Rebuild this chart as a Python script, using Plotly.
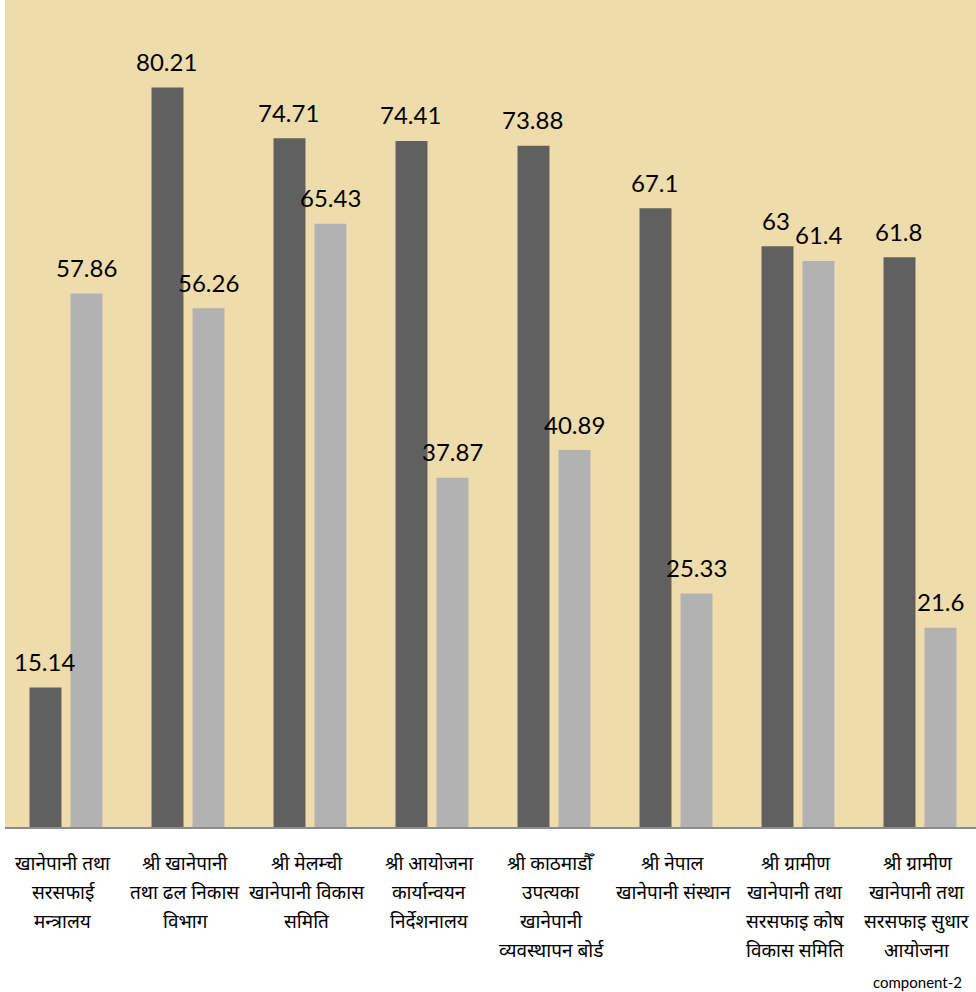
import plotly.graph_objects as go

categories = [
    "खानेपानी तथा<br>सरसफाई<br>मन्त्रालय",
    "श्री खानेपानी<br>तथा ढल निकास<br>विभाग",
    "श्री मेलम्ची<br>खानेपानी विकास<br>समिति",
    "श्री आयोजना<br>कार्यान्वयन<br>निर्देशनालय",
    "श्री काठमाडौँ<br>उपत्यका<br>खानेपानी<br>व्यवस्थापन बोर्ड",
    "श्री नेपाल<br>खानेपानी संस्थान",
    "श्री ग्रामीण<br>खानेपानी तथा<br>सरसफाइ कोष<br>विकास समिति",
    "श्री ग्रामीण<br>खानेपानी तथा<br>सरसफाइ सुधार<br>आयोजना<br>component-2",
]
series_a = [15.14, 80.21, 74.71, 74.41, 73.88, 67.1, 63, 61.8]
series_b = [57.86, 56.26, 65.43, 37.87, 40.89, 25.33, 61.4, 21.6]

idx = list(range(len(categories)))

fig = go.Figure()
fig.add_trace(go.Bar(x=idx, y=series_a, marker=dict(color="#606060", line=dict(width=0)), name="A"))
fig.add_trace(go.Bar(x=idx, y=series_b, marker=dict(color="#b2b2b2", line=dict(width=0)), name="B"))

annotations = []
value_font = dict(family="Lato, Carlito, sans-serif", size=24, color="#000000")
for i in idx:
    annotations.append(dict(x=i, y=series_a[i], xref="x", yref="y", text=str(series_a[i]),
                            showarrow=False, xshift=-22, yshift=26, yanchor="middle",
                            font=value_font))
    annotations.append(dict(x=i, y=series_b[i], xref="x", yref="y", text=str(series_b[i]),
                            showarrow=False, xshift=20.5, yshift=26, yanchor="middle",
                            font=value_font))
    lines = categories[i].split("<br>")
    for j, ln in enumerate(lines):
        latin = ln.isascii()
        annotations.append(dict(x=i, y=0, xref="x", yref="paper", text=ln, showarrow=False,
                                yanchor="middle", yshift=-38 - 29 * j - (1 if latin else 0),
                                xshift=-3,
                                font=dict(family=("Lato, Carlito, sans-serif" if latin else "Noto Sans Devanagari, Mangal, Noto Sans, sans-serif"),
                                          size=15 if latin else 19, color="#000000")))

fig.update_layout(
    width=976, height=992,
    margin=dict(l=5, r=0, t=0, b=165),
    paper_bgcolor="#ffffff",
    plot_bgcolor="#efdcad",
    barmode="group",
    bargap=0.328,
    bargroupgap=0.22,
    showlegend=False,
    annotations=annotations,
    xaxis=dict(range=[-0.5, 7.459], showticklabels=False, showgrid=False, zeroline=False,
               showline=True, linecolor="#8c8c8c", linewidth=2, ticks=""),
    yaxis=dict(range=[0, 89.7], showticklabels=False, showgrid=False, zeroline=False,
               showline=False, ticks=""),
)

fig.write_html("out.html", config={"displayModeBar": False},
               post_script="document.body.style.margin='0';document.body.style.overflow='hidden';")
